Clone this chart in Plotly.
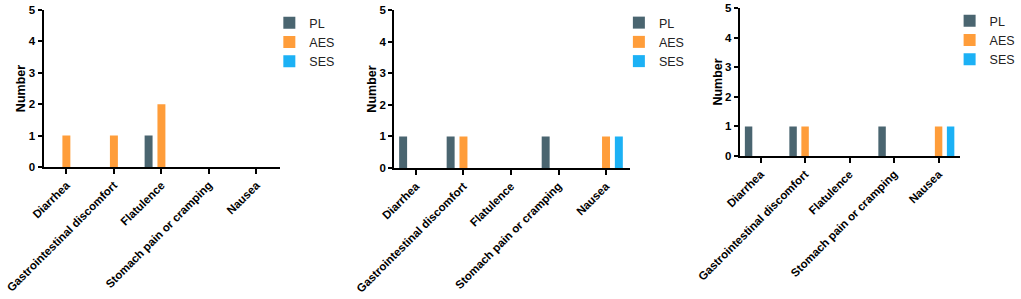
import plotly.graph_objects as go

categories = ["Diarrhea", "Gastrointestinal discomfort", "Flatulence",
              "Stomach pain or cramping", "Nausea"]
groups = ["PL", "AES", "SES"]

panel1_PL = [0, 0, 1, 0, 0]
panel1_AES = [1, 1, 2, 0, 0]
panel1_SES = [0, 0, 0, 0, 0]

panel2_PL = [1, 1, 0, 1, 0]
panel2_AES = [0, 1, 0, 0, 1]
panel2_SES = [0, 0, 0, 0, 1]

panel3_PL = [1, 1, 0, 1, 0]
panel3_AES = [0, 1, 0, 0, 1]
panel3_SES = [0, 0, 0, 0, 1]

y_ticks = [0, 1, 2, 3, 4, 5]

colors = {"PL": "#4a6570", "AES": "#ff9d3a", "SES": "#1cb1f5"}

W, H = 1021, 299


def px(v):
    return v / W


def py(v):
    return (H - v) / H


panels = [
    dict(data={"PL": panel1_PL, "AES": panel1_AES, "SES": panel1_SES},
         x0=44, x1=283, ytop=10, ybot=167, xr=[-0.48, 4.5], legx=272, legy=8),
    dict(data={"PL": panel2_PL, "AES": panel2_AES, "SES": panel2_SES},
         x0=398, x1=636, ytop=10, ybot=168, xr=[-0.46, 4.5], legx=625, legy=8),
    dict(data={"PL": panel3_PL, "AES": panel3_AES, "SES": panel3_SES},
         x0=747, x1=969, ytop=8, ybot=156, xr=[-0.47, 4.47], legx=959, legy=6),
]

fig = go.Figure()
layout = dict(
    width=W, height=H,
    margin=dict(l=0, r=0, t=0, b=0),
    paper_bgcolor="white", plot_bgcolor="white",
    barmode="group", bargap=0.19, bargroupgap=0.38,
    font=dict(family="Arial, Liberation Sans, sans-serif", color="black"),
)

for i, p in enumerate(panels):
    n = "" if i == 0 else str(i + 1)
    leg = "legend" if i == 0 else f"legend{i + 1}"
    for g in groups:
        fig.add_trace(go.Bar(
            x=categories, y=p["data"][g], name=g,
            marker=dict(color=colors[g], line=dict(width=0)),
            xaxis=f"x{n}", yaxis=f"y{n}", legend=leg,
            showlegend=True,
        ))
    xd = [px(p["x0"]), px(p["x1"])]
    yd = [py(p["ybot"]), py(p["ytop"])]
    layout[f"xaxis{n}"] = dict(
        domain=xd, anchor=f"y{n}", range=p["xr"],
        showline=True, linecolor="black", linewidth=2,
        ticks="outside", ticklen=5, tickwidth=2, tickcolor="black",
        tickangle=-45, showgrid=False, zeroline=False,
        tickfont=dict(size=11.5, weight="bold", color="black"),
        automargin=False, ticklabeloverflow="allow",
    )
    layout[f"yaxis{n}"] = dict(
        domain=yd, anchor=f"x{n}", range=[0, 5],
        tickvals=y_ticks,
        showline=True, linecolor="black", linewidth=2,
        ticks="outside", ticklen=4, tickwidth=2, tickcolor="black",
        showgrid=False, zeroline=False,
        tickfont=dict(size=11.5, weight="bold", color="black"),
        title=dict(text="Number", font=dict(size=12.5, weight="bold", color="black"),
                   standoff=0),
        automargin=False, ticklabeloverflow="allow",
    )
    layout[leg] = dict(
        x=px(p["legx"]), y=py(p["legy"]), xanchor="left", yanchor="top",
        bgcolor="rgba(0,0,0,0)", borderwidth=0,
        font=dict(size=12.5, color="#222222"),
        tracegroupgap=0,
    )

fig.update_layout(**layout)
fig.write_html("out.html",
               config={"displayModeBar": False},
               post_script="document.body.style.margin='0';"
                           "document.body.style.overflow='hidden';")
